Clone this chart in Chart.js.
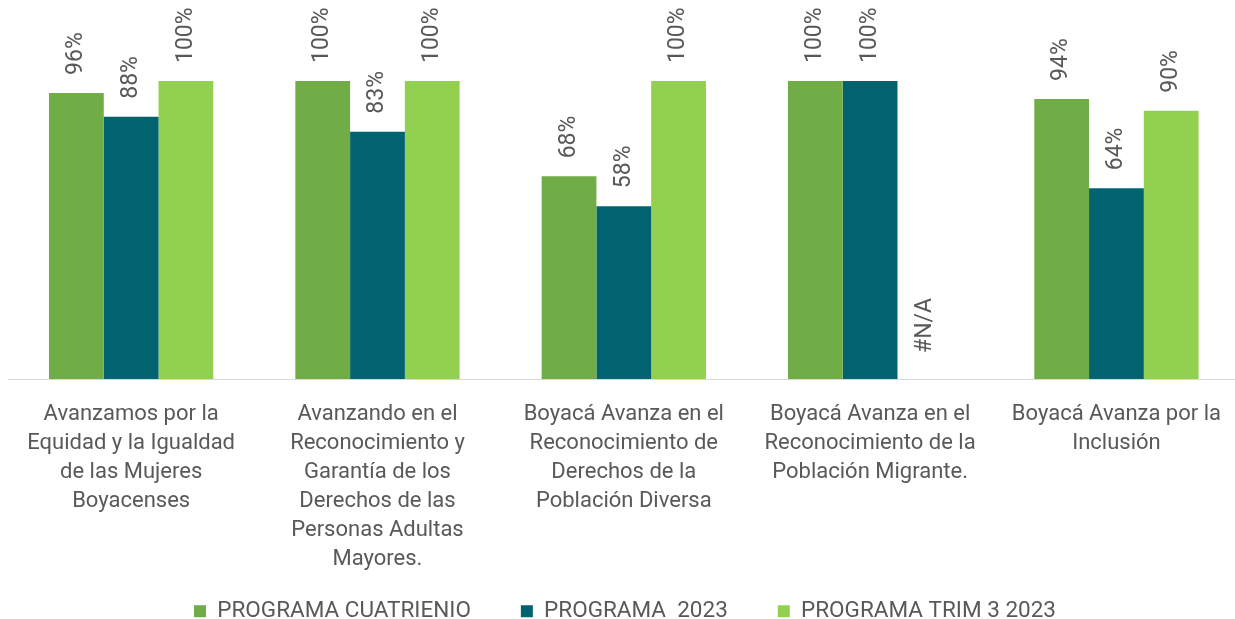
<!DOCTYPE html>
<html>
<head>
<meta charset="utf-8">
<script src="https://cdn.jsdelivr.net/npm/chart.js@4.4.1/dist/chart.umd.min.js"></script>
<style>
  html, body { margin: 0; padding: 0; background: #fff; overflow: hidden; }
  #wrap { width: 1242px; height: 619px; }
</style>
</head>
<body>
<div id="wrap"><canvas id="myChart"></canvas></div>
<script>
const categories = [
    ['Avanzamos por la', 'Equidad y la Igualdad', 'de las Mujeres', 'Boyacenses'],
    ['Avanzando en el', 'Reconocimiento y', 'Garantía de los', 'Derechos de las', 'Personas Adultas', 'Mayores.'],
    ['Boyacá Avanza en el', 'Reconocimiento de', 'Derechos de la', 'Población Diversa'],
    ['Boyacá Avanza en el', 'Reconocimiento de la', 'Población Migrante.'],
    ['Boyacá Avanza por la', 'Inclusión']
]
const seriesNames = ['PROGRAMA CUATRIENIO', 'PROGRAMA  2023', 'PROGRAMA TRIM 3 2023']
const cuatrienio = [96, 100, 68, 100, 94]
const programa2023 = [88, 83, 58, 100, 64]
const trim3 = [100, 100, 100, null, 90]
const colors = ['#70AD47', '#00636F', '#92D050']

const textColor = '#595959'
const fontFamily = 'Roboto, "DejaVu Sans", sans-serif'

// rotated value labels above the bars
const valueLabels = {
    id: 'valueLabels',
    afterDatasetsDraw(chart) {
        const ctx = chart.ctx
        const yScale = chart.scales.y
        ctx.save()
        ctx.fillStyle = textColor
        ctx.font = '23px ' + fontFamily
        ctx.textAlign = 'left'
        ctx.textBaseline = 'middle'
        chart.data.datasets.forEach((ds, i) => {
            const meta = chart.getDatasetMeta(i)
            meta.data.forEach((bar, j) => {
                const v = ds.data[j]
                let text, y
                if (v === null) {
                    text = '#N/A'
                    y = yScale.getPixelForValue(0) - 26
                } else {
                    text = v + '%'
                    y = bar.y - 18
                }
                ctx.save()
                ctx.translate(bar.x, y)
                ctx.rotate(-Math.PI / 2)
                ctx.fillText(text, 0, 0)
                ctx.restore()
            })
        })
        ctx.restore()
    }
}

// wide gaps between legend items without the big vertical padding
const legendSpacing = {
    id: 'legendSpacing',
    afterInit(chart) {
        const fit = chart.legend.fit
        chart.legend.fit = function () {
            fit.call(this)
            this.height = 24
        }
    },
    afterLayout(chart) {
        chart.legend.top -= 45
    }
}

const ctx = document.getElementById('myChart').getContext('2d')

const myChart = new Chart(ctx, {
    type: 'bar',
    data: {
        labels: categories,
        datasets: seriesNames.map((name, i) => ({
            label: name,
            data: [cuatrienio, programa2023, trim3][i],
            backgroundColor: colors[i],
            borderWidth: 0,
            barPercentage: 1,
            categoryPercentage: 0.667
        }))
    },
    options: {
        responsive: true,
        maintainAspectRatio: false,
        animation: false,
        layout: {
            padding: { top: 81, left: 8, right: 0, bottom: 0 }
        },
        plugins: {
            tooltip: { enabled: false },
            legend: {
                position: 'bottom',
                labels: {
                    color: textColor,
                    font: { family: fontFamily, size: 22.5 },
                    boxWidth: 12,
                    boxHeight: 12,
                    padding: 50
                }
            }
        },
        scales: {
            x: {
                grid: { display: false, drawTicks: false },
                border: { color: '#D9D9D9', width: 1 },
                ticks: {
                    color: textColor,
                    font: { family: fontFamily, size: 22, lineHeight: 29 / 22 },
                    maxRotation: 0,
                    autoSkip: false,
                    padding: 21
                }
            },
            y: {
                display: false,
                min: 0,
                max: 100
            }
        }
    },
    plugins: [valueLabels, legendSpacing]
});
</script>
</body>
</html>
